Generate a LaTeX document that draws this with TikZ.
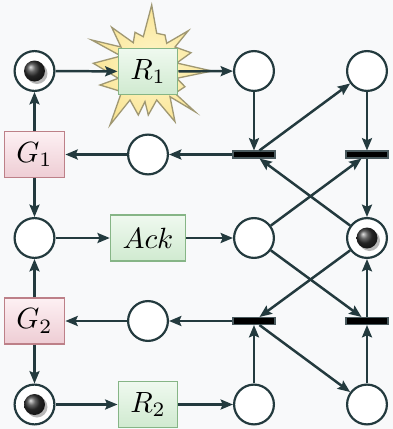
\documentclass[tikz,border=0pt]{standalone}
\usetikzlibrary{arrows.meta,calc}
\definecolor{bg}{HTML}{F8F9FA}
\definecolor{ink}{HTML}{233A3E}
\definecolor{greenTop}{HTML}{EFF9EF}
\definecolor{greenBot}{HTML}{D0EAD0}
\definecolor{greenEdge}{HTML}{86B586}
\definecolor{redTop}{HTML}{FDF0F3}
\definecolor{redBot}{HTML}{EECDD4}
\definecolor{redEdge}{HTML}{BD8088}
\definecolor{starIn}{HTML}{FFF7CC}
\definecolor{starOut}{HTML}{FAE596}
\definecolor{starEdge}{HTML}{A09872}
\definecolor{barEdge}{HTML}{4A5A5E}

% a marking token: shaded ball with a soft shadow
\newcommand\tokenball[1]{%
  \fill[black!35,opacity=0.8] ($(#1)+(2.5,2.5)$) circle[radius=10.5];
  \shade[ball color=black!80] (#1) circle[radius=10.5];}

\begin{document}
\begin{tikzpicture}[x=0.3415pt,y=-0.3415pt,
  place/.style={circle,draw=ink,line width=0.75pt,fill=white,minimum size=13.6pt,inner sep=0pt},
  bar/.style={rectangle,fill=black,draw=barEdge,line width=0.45pt,minimum width=14.3pt,minimum height=2.3pt,inner sep=0pt},
  actbox/.style={rectangle,draw=#1Edge,line width=0.55pt,top color=#1Top,bottom color=#1Bot,
    minimum height=15.6pt,minimum width=18.6pt,inner xsep=4.1pt,inner ysep=0pt},
  arc/.style={draw=ink,line width=0.85pt,-{Stealth[length=4.2pt,width=3.4pt,inset=0.7pt]}}]

\fill[bg] (0,0) rectangle (393,429);
\useasboundingbox (0,0) rectangle (393,429);

% burst behind the active region
\path[draw=starEdge,line width=0.45pt,inner color=starIn,outer color=starOut]
  (91.7,40) -- (121,47) -- (111.7,27.3) -- (133.3,42.7) -- (135,32.3) -- (143.3,36.7)
  -- (151.7,5) -- (156.7,33.3) -- (165,35) -- (166.7,43.3) -- (188.3,30.7) -- (175,47)
  -- (191,52.7) -- (176.7,63) -- (212,71) -- (176.7,78.3) -- (185,86.7) -- (175,93.3)
  -- (195,111.7) -- (170,96.7) -- (175,121.7) -- (156.7,100) -- (148.3,115) -- (145,101.7)
  -- (138.3,115) -- (130,100) -- (110,125) -- (121.7,91.7) -- (100,85) -- (118.3,78.3)
  -- (93.3,63.3) -- (121,56) -- cycle;

% places
\node[place] (p00) at (34.5,71) {};
\node[place] (p20) at (254,71) {};
\node[place] (p30) at (367,71) {};
\node[place] (p11) at (148,154.5) {};
\node[place] (p02) at (34.5,238) {};
\node[place] (p22) at (254,238) {};
\node[place] (p32) at (367,238) {};
\node[place] (p13) at (148,321) {};
\node[place] (p04) at (34.5,404.5) {};
\node[place] (p24) at (254,404.5) {};
\node[place] (p34) at (367,404.5) {};

% transitions
\node[bar] (t21) at (254,154.5) {};
\node[bar] (t31) at (367,154.5) {};
\node[bar] (t23) at (254,321) {};
\node[bar] (t33) at (367,321) {};

% boxes
\node[actbox=green] (R1) at (148,71.5) {$R_1$};
\node[actbox=red] (G1) at (34.5,154.5) {$G_1$};
\node[actbox=green] (Ack) at (148,238) {$Ack$};
\node[actbox=red] (G2) at (34.5,321) {$G_2$};
\node[actbox=green] (R2) at (148,404.5) {$R_2$};

% tokens
\tokenball{p00}
\tokenball{p32}
\tokenball{p04}

% arcs
\draw[arc] (p00) -- (R1);
\draw[arc] (R1) -- (p20);
\draw[arc] (p20) -- (t21);
\draw[arc] (t21) -- (p30);
\draw[arc] (p30) -- (t31);
\draw[arc] (t21) -- (p11);
\draw[arc] (p11) -- (G1);
\draw[arc] (G1) -- (p00);
\draw[arc] (G1) -- (p02);
\draw[arc] (p02) -- (Ack);
\draw[arc] (Ack) -- (p22);
\draw[arc] (p22) -- (t31);
\draw[arc] (p22) -- (t33);
\draw[arc] (p32) -- (t21);
\draw[arc] (p32) -- (t23);
\draw[arc] (t31) -- (p32);
\draw[arc] (t33) -- (p32);
\draw[arc] (t23) -- (p13);
\draw[arc] (p13) -- (G2);
\draw[arc] (G2) -- (p02);
\draw[arc] (G2) -- (p04);
\draw[arc] (p04) -- (R2);
\draw[arc] (R2) -- (p24);
\draw[arc] (p24) -- (t23);
\draw[arc] (t23) -- (p34);
\draw[arc] (p34) -- (t33);
\end{tikzpicture}
\end{document}
